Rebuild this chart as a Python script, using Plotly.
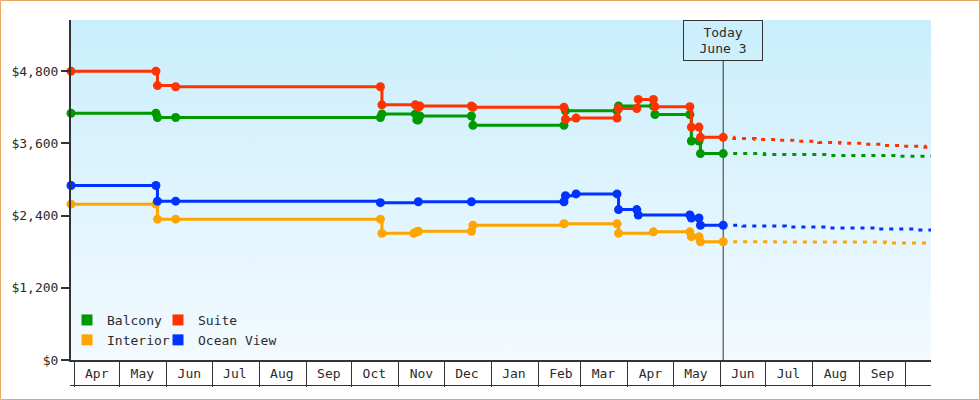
import base64
import pandas as pd
import plotly.graph_objects as go

# ---------------- data ----------------
balcony_dates = ["2022-03-30", "2022-05-25", "2022-05-26", "2022-06-07", "2022-10-20", "2022-10-21",
                 "2022-11-12", "2022-11-13", "2022-11-14", "2022-11-15", "2022-12-19", "2022-12-20",
                 "2023-02-18", "2023-02-19", "2023-03-25", "2023-03-26", "2023-04-18", "2023-04-19",
                 "2023-05-12", "2023-05-13", "2023-05-18", "2023-05-19", "2023-06-03"]
balcony_prices = [4100, 4100, 4030, 4030, 4030, 4090,
                  4090, 3990, 3990, 4055, 4055, 3900,
                  3900, 4140, 4140, 4220, 4220, 4080,
                  4080, 3640, 3640, 3430, 3430]

suite_dates = ["2022-03-30", "2022-05-25", "2022-05-26", "2022-06-07", "2022-10-20", "2022-10-21",
               "2022-11-12", "2022-11-14", "2022-11-15", "2022-12-19", "2022-12-20",
               "2023-02-18", "2023-02-19", "2023-02-26", "2023-03-25", "2023-03-26", "2023-04-07",
               "2023-04-08", "2023-04-18", "2023-04-19", "2023-05-12", "2023-05-13", "2023-05-18",
               "2023-05-19", "2023-06-03"]
suite_prices = [4800, 4800, 4560, 4540, 4540, 4240,
                4240, 4200, 4220, 4220, 4200,
                4200, 4000, 4020, 4020, 4180, 4180,
                4330, 4330, 4210, 4210, 3870, 3870,
                3700, 3700]

interior_dates = ["2022-03-30", "2022-05-25", "2022-05-26", "2022-06-07", "2022-10-20", "2022-10-21",
                  "2022-11-11", "2022-11-13", "2022-11-14", "2022-12-19", "2022-12-20",
                  "2023-02-18", "2023-03-25", "2023-03-26", "2023-04-18", "2023-05-12", "2023-05-13",
                  "2023-05-18", "2023-05-19", "2023-06-03"]
interior_prices = [2590, 2590, 2340, 2340, 2340, 2105,
                   2105, 2130, 2140, 2140, 2240,
                   2265, 2265, 2105, 2130, 2130, 2050,
                   2050, 1965, 1965]

ocean_dates = ["2022-03-30", "2022-05-25", "2022-05-26", "2022-06-07", "2022-10-20", "2022-11-14",
               "2022-12-19", "2023-02-18", "2023-02-19", "2023-02-26", "2023-03-25", "2023-03-26",
               "2023-04-07", "2023-04-08", "2023-05-12", "2023-05-13", "2023-05-18", "2023-05-19",
               "2023-06-03"]
ocean_prices = [2900, 2900, 2640, 2640, 2615, 2630,
                2630, 2630, 2730, 2760, 2760, 2500,
                2500, 2410, 2410, 2360, 2360, 2240,
                2240]

# projections (dotted, after today)
suite_proj_dates = ["2023-06-03", "2023-06-10", "2023-06-24", "2023-07-08", "2023-07-22", "2023-08-05",
                    "2023-08-19", "2023-09-02", "2023-09-16", "2023-09-30", "2023-10-14", "2023-10-18"]
suite_proj = [3700, 3680, 3665, 3650, 3635, 3615, 3600, 3585, 3565, 3550, 3535, 3535]
balcony_proj_dates = ["2023-06-03", "2023-06-30", "2023-08-11", "2023-09-26", "2023-10-18"]
balcony_proj = [3430, 3415, 3400, 3385, 3385]
ocean_proj_dates = ["2023-06-03", "2023-06-16", "2023-07-14", "2023-08-11", "2023-09-12", "2023-10-09",
                    "2023-10-18"]
ocean_proj = [2240, 2225, 2210, 2195, 2175, 2160, 2160]
interior_proj_dates = ["2023-06-03", "2023-07-07", "2023-09-18", "2023-10-18"]
interior_proj = [1965, 1960, 1945, 1945]

month_labels = ["Apr", "May", "Jun", "Jul", "Aug", "Sep", "Oct", "Nov", "Dec",
                "Jan", "Feb", "Mar", "Apr", "May", "Jun", "Jul", "Aug", "Sep"]
y_ticks = [0, 1200, 2400, 3600, 4800]
y_tick_labels = ["$0", "$1,200", "$2,400", "$3,600", "$4,800"]
today = "2023-06-03"
today_text = "Today<br>June 3"

# ---------------- style ----------------
FONT = "DejaVu Sans Mono"
TXT = "#2b2b2b"
colors = {"Balcony": "#009900", "Suite": "#ff3300", "Interior": "#ffa500", "Ocean View": "#0033ff"}

month_starts = pd.date_range("2022-04-01", "2023-10-01", freq="MS")
label_pos = month_starts[:-1] + pd.Timedelta(days=15)

fig = go.Figure()

series = [
    ("Balcony", balcony_dates, balcony_prices, balcony_proj_dates, balcony_proj),
    ("Interior", interior_dates, interior_prices, interior_proj_dates, interior_proj),
    ("Ocean View", ocean_dates, ocean_prices, ocean_proj_dates, ocean_proj),
    ("Suite", suite_dates, suite_prices, suite_proj_dates, suite_proj),
]
for name, d, p, pd_, pp in series:
    c = colors[name]
    fig.add_trace(go.Scatter(x=pd_, y=pp, mode="lines", line=dict(color=c, width=3, dash="4px,6px", shape="hv"),
                             showlegend=False, hoverinfo="skip", cliponaxis=False))
    fig.add_trace(go.Scatter(x=d, y=p, mode="lines+markers", line=dict(color=c, width=3, shape="hv"),
                             marker=dict(size=9, color=c), showlegend=False, cliponaxis=False, name=name))

# legend entries (square swatches), two columns
for name, leg in [("Balcony", "legend"), ("Interior", "legend"), ("Suite", "legend2"), ("Ocean View", "legend2")]:
    fig.add_trace(go.Scatter(x=[None], y=[None], mode="markers", name=name, legend=leg,
                             marker=dict(symbol="square", size=11, color=colors[name])))

# gradient background as svg image
svg = ('<svg xmlns="http://www.w3.org/2000/svg" width="10" height="100" viewBox="0 0 10 100" '
       'preserveAspectRatio="none"><defs><linearGradient id="g" x1="0" y1="0" x2="0" y2="1">'
       '<stop offset="0" stop-color="#caeefc"/><stop offset="1" stop-color="#f3faff"/></linearGradient>'
       '</defs><rect width="10" height="100" fill="url(#g)"/></svg>')
uri = "data:image/svg+xml;base64," + base64.b64encode(svg.encode()).decode()

L, R, T, B = 71, 49, 20, 40
W, H = 980, 400
pw, ph = W - L - R, H - T - B

def px(xp):
    return (xp - L) / pw

def py(yp):
    return (H - B - yp) / ph

fig.update_layout(
    width=W, height=H,
    margin=dict(l=L, r=R, t=T, b=B, pad=0),
    paper_bgcolor="white",
    plot_bgcolor="#e4f6fe",
    font=dict(family=FONT, size=13, color=TXT),
    images=[dict(source=uri, xref="paper", yref="paper", x=0, y=1, sizex=1, sizey=1,
                 sizing="stretch", layer="below", xanchor="left", yanchor="top")],
    xaxis=dict(type="date", range=["2022-03-30", "2023-10-18"], showgrid=False, zeroline=False,
               showline=True, linecolor="#333", linewidth=2,
               tickmode="array", tickvals=list(label_pos), ticktext=month_labels, ticks="",
               tickfont=dict(family=FONT, size=13, color=TXT),
               minor=dict(tickmode="array", tickvals=list(month_starts), ticks="outside",
                          ticklen=25, tickwidth=1, tickcolor="#333", showgrid=False)),
    yaxis=dict(range=[0, 5650], showgrid=False, zeroline=False, showline=True, linecolor="#333",
               linewidth=2, tickmode="array", tickvals=y_ticks, ticktext=y_tick_labels,
               ticks="outside", ticklen=8, tickwidth=2, tickcolor="#333",
               tickfont=dict(family=FONT, size=13, color=TXT)),
    legend=dict(x=px(67), y=py(305), xanchor="left", yanchor="top", bgcolor="rgba(0,0,0,0)",
                font=dict(family=FONT, size=13, color=TXT), itemwidth=30, tracegroupgap=0),
    legend2=dict(x=px(158), y=py(305), xanchor="left", yanchor="top", bgcolor="rgba(0,0,0,0)",
                 font=dict(family=FONT, size=13, color=TXT), itemwidth=30, tracegroupgap=0),
    shapes=[
        dict(type="line", xref="x", yref="paper", x0=today, x1=today, y0=0, y1=py(61),
             line=dict(color="#333", width=1), layer="below"),
        dict(type="line", xref="paper", yref="paper", x0=px(70), x1=1, y0=py(385.5), y1=py(385.5),
             line=dict(color="#333", width=1)),
        dict(type="rect", xref="paper", yref="paper", x0=px(0.5), x1=px(979.5), y0=py(399.5), y1=py(0.5),
             line=dict(color="#e8a862", width=1)),
    ],
    annotations=[
        dict(text=today_text, x=today, xref="x", y=1, yref="paper", xanchor="center", yanchor="top",
             showarrow=False, bordercolor="#333", borderwidth=1, borderpad=0, width=78, height=39,
             font=dict(family=FONT, size=13, color=TXT), bgcolor="rgba(0,0,0,0)"),
    ],
)

fig.write_html("out.html")
